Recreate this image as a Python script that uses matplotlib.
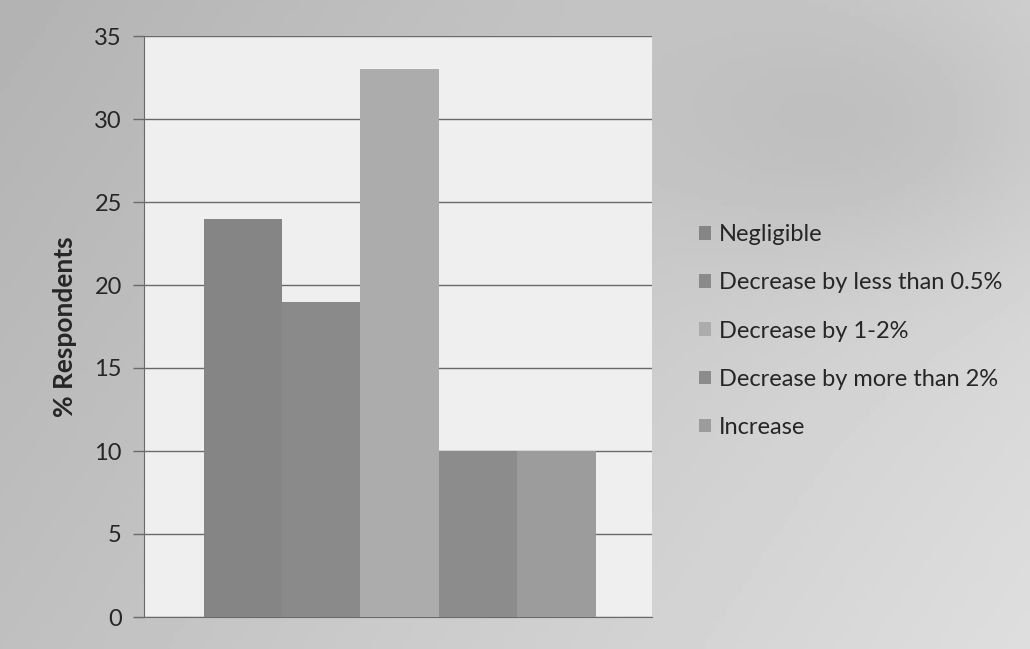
import matplotlib.pyplot as plt
import numpy as np

categories = ["Negligible", "Decrease by less than 0.5%", "Decrease by 1-2%",
              "Decrease by more than 2%", "Increase"]
values = [24, 19, 33, 10, 10]
bar_colors = ["#858585", "#8a8a8a", "#acacac", "#8c8c8c", "#9c9c9c"]
yticks = [0, 5, 10, 15, 20, 25, 30, 35]

plt.rcParams['font.family'] = ['Lato', 'DejaVu Sans']

fig = plt.figure(figsize=(10.30, 6.49), dpi=100)

# gray gradient background behind everything
bg = fig.add_axes([0, 0, 1, 1], zorder=-10)
xx, yy = np.meshgrid(np.linspace(0, 1, 200), np.linspace(0, 1, 120))
shade = 0.70 + 0.12 * xx + 0.05 * yy - 0.06 * np.exp(-((xx - 0.85) ** 2 + (yy - 0.2) ** 2) / 0.05)
bg.imshow(shade, cmap="gray", vmin=0, vmax=1, aspect="auto", extent=[0, 1, 0, 1])
bg.set_axis_off()

ax = fig.add_axes([144 / 1030, 32 / 649, 508 / 1030, 581 / 649])
ax.set_facecolor("#efefef")

x = np.arange(len(values))
bars = ax.bar(x, values, width=1.0, color=bar_colors, label=categories, zorder=3)

ax.set_xlim(-1.26, 5.22)
ax.set_ylim(0, 35)
ax.set_yticks(yticks)
ax.set_xticks([])
ax.grid(axis="y", color="#6a6a6a", linewidth=1.0, zorder=1)
ax.tick_params(axis="y", length=8, width=1, color="#6a6a6a", labelsize=17,
               labelcolor="#262626", pad=8)
for side in ["top", "right"]:
    ax.spines[side].set_visible(False)
ax.spines["left"].set_color("#6a6a6a")
ax.spines["bottom"].set_color("#6a6a6a")
ax.set_ylabel("% Respondents", fontsize=19, fontweight="bold", color="#262626", labelpad=12)

fig.legend(handles=bars, labels=categories, loc="center left",
           bbox_to_anchor=(678 / 1030, 1 - 331 / 649), frameon=False,
           fontsize=17, handlelength=0.5, handleheight=0.5, handletextpad=0.35,
           labelspacing=1.15, labelcolor="#262626")

fig.savefig("out.png", dpi=100)
